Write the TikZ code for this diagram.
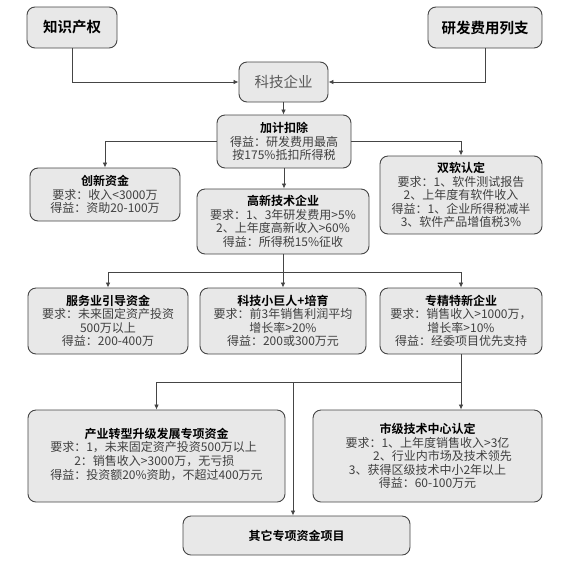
\documentclass[tikz,border=0pt]{standalone}
\usepackage{fontspec}
\newfontfamily\cjk{Noto Sans CJK SC}[BoldFont={Noto Sans CJK SC Bold}]
\usetikzlibrary{arrows.meta,calc}
\definecolor{BoxClr}{rgb}{0.91,0.91,0.91}
\definecolor{LineClr}{rgb}{0.27,0.27,0.27}
\definecolor{TextClr}{rgb}{0.25,0.25,0.25}
\newcommand\BoxHead[1]{{\bfseries\color{black}#1}}

\begin{document}
\begin{tikzpicture}[x=1pt,y=-1pt,
  box/.style={draw=LineClr,line width=0.9pt,fill=BoxClr,rounded corners=8pt,align=center,
    inner sep=2pt,text=TextClr,font=\cjk\fontsize{12}{13.5}\selectfont},
  topbox/.style={box,text=black,font=\cjk\bfseries\fontsize{14.5}{16}\selectfont},
  link/.style={draw=LineClr,line width=0.8pt,-{Latex[length=5pt,width=4.5pt]}},
  plain/.style={draw=LineClr,line width=0.8pt}]
\useasboundingbox[fill=white] (0,0) rectangle (588,563);

\node[topbox,minimum width=90pt,minimum height=41pt] (ip) at (72,27.5) {知识产权};
\node[topbox,minimum width=114pt,minimum height=41pt] (rd) at (485,27.5) {研发费用列支};
\node[box,minimum width=89pt,minimum height=40pt,text=black!65,font=\cjk\fontsize{14.5}{16}\selectfont] (tech) at (283.5,82) {科技企业};

\node[box,minimum width=134pt,minimum height=53pt] (jiaji) at (284,141.5)
  {\BoxHead{加计扣除}\\得益：研发费用最高\\按175\%抵扣所得税};
\node[box,minimum width=150pt,minimum height=53pt] (cx) at (105,194.5)
  {\BoxHead{创新资金}\\要求：收入<3000万\\得益：资助20-100万};
\node[box,minimum width=162pt,minimum height=78pt] (sr) at (461,195)
  {\BoxHead{双软认定}\\要求：1、软件测试报告\\2、上年度有软件收入\\得益：1、企业所得税减半\\3、软件产品增值税3\%};
\node[box,minimum width=172pt,minimum height=65pt] (gx) at (283,221.5)
  {\BoxHead{高新技术企业}\\要求：1、3年研发费用>5\%\\2、上年度高新收入>60\%\\得益：所得税15\%征收};

\coordinate (split1) at (283,272);

\node[box,minimum width=160pt,minimum height=66pt] (fw) at (108,321)
  {\BoxHead{服务业引导资金}\\要求：未来固定资产投资\\500万以上\\得益：200-400万};
\node[box,minimum width=166pt,minimum height=66pt] (xjr) at (283,321)
  {\BoxHead{科技小巨人+培育}\\要求：前3年销售利润平均\\增长率>20\%\\得益：200或300万元};
\node[box,minimum width=162pt,minimum height=66pt] (zj) at (461,321)
  {\BoxHead{专精特新企业}\\要求：销售收入>1000万，\\增长率>10\%\\得益：经委项目优先支持};

\coordinate (split2) at (293,382);

\node[box,minimum width=257pt,minimum height=92pt] (cy) at (156.5,456)
  {\BoxHead{产业转型升级发展专项资金}\\
   \begin{tabular}{@{}l@{}}要求：1，未来固定资产投资500万以上\\
   \hspace{2em}2：销售收入>3000万，无亏损\\
   得益：投资额20\%资助，不超过400万元\end{tabular}};
\node[box,minimum width=229pt,minimum height=92pt] (sj) at (427.5,456)
  {\BoxHead{市级技术中心认定}\\要求：1、上年度销售收入>3亿\\\hspace{2.5em}2、行业内市场及技术领先\\3、获得区级技术中小2年以上\\得益：60-100万元};
\node[box,minimum width=227pt,minimum height=39pt] (qt) at (296.5,535.5)
  {\BoxHead{其它专项资金项目}};

\draw[link] (ip.south) |- (tech.west);
\draw[link] (rd.south) |- (tech.east);
\draw[link] (tech.south) -- (tech.south |- jiaji.north);

\draw[link] (jiaji.west) -| (cx.north);
\draw[link] (jiaji.east) -| (sr.north);
\draw[link] (jiaji.south) -- (jiaji.south |- gx.north);

\draw[link] (gx.south) -- (xjr.north);
\draw[link] (split1) -| (fw.north);
\draw[link] (split1) -| (zj.north);

\draw[plain] (zj.south) |- (split2);
\draw[link] (zj.south) -- (zj.south |- sj.north);
\draw[link] (split2) -| (cy.north);
\draw[link] (split2) -- (split2 |- qt.north);

\end{tikzpicture}
\end{document}
